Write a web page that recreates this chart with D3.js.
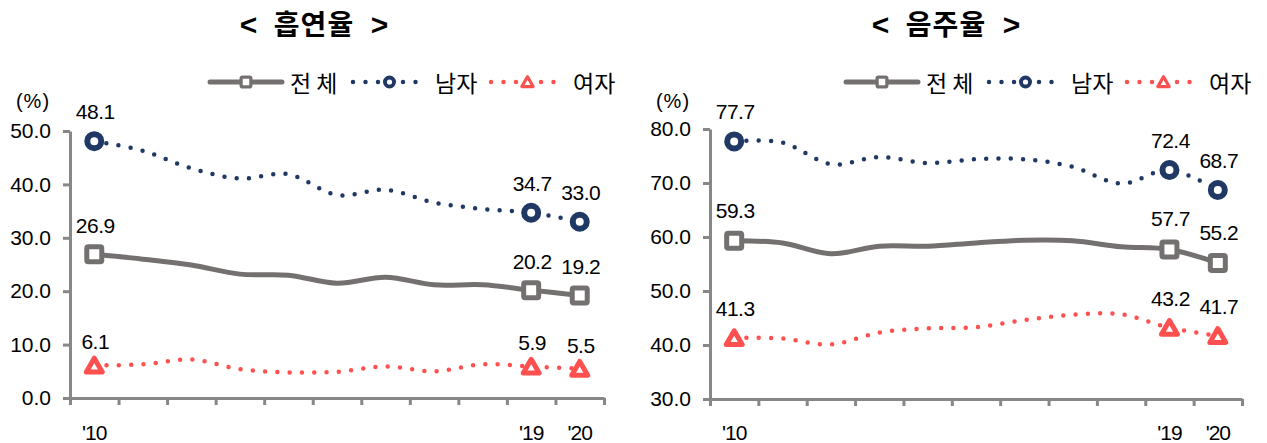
<!DOCTYPE html>
<html>
<head>
<meta charset="utf-8">
<script src="https://cdn.jsdelivr.net/npm/d3@7"></script>
<style>
  body { margin: 0; background: #fff; }
  text { font-family: "Liberation Sans", Arial, sans-serif; }
  .kr { font-family: "Noto Sans CJK KR", "Noto Sans", sans-serif; }
</style>
</head>
<body>
<svg id="chart" width="1267" height="443"></svg>
<script>
// years on the x axis, only three of them are labelled
var years = ["2010","2011","2012","2013","2014","2015","2016","2017","2018","2019","2020"];
var yearLabels = ["'10","","","","","","","","","'19","'20"];
var labelled = [0, 9, 10];

// smoking rate (%)
var smokeTotal  = [26.9, 26.0, 24.9, 23.2, 23.0, 21.5, 22.6, 21.2, 21.2, 20.2, 19.2];
var smokeMale   = [48.1, 46.3, 43.0, 41.1, 41.9, 38.0, 39.0, 36.6, 35.4, 34.7, 33.0];
var smokeFemale = [6.1, 6.3, 7.2, 5.4, 4.8, 4.9, 5.9, 5.0, 6.3, 5.9, 5.5];

// drinking rate (%)
var drinkTotal  = [59.3, 58.9, 56.9, 58.3, 58.3, 58.9, 59.4, 59.3, 58.2, 57.7, 55.2];
var drinkMale   = [77.7, 77.5, 73.5, 74.8, 73.7, 74.4, 74.4, 73.0, 69.9, 72.4, 68.7];
var drinkFemale = [41.3, 41.2, 40.1, 42.3, 43.1, 43.3, 44.6, 45.6, 45.7, 43.2, 41.7];

var seriesNames = ["전 체", "남자", "여자"];
var smokeTicks = [0, 10, 20, 30, 40, 50];
var drinkTicks = [30, 40, 50, 60, 70, 80];

var GRAY = "#757070", NAVY = "#1f3864", RED = "#ff5050", AXIS = "#878787";

var svg = d3.select("#chart");

function drawMarker(g, kind, x, y, big) {
	var s = big ? 1 : 0.65;
	if (kind == "square") {
		var side = 15 * s;
		g.append("rect")
			.attr("x", x - side/2).attr("y", y - side/2)
			.attr("width", side).attr("height", side)
			.attr("rx", 1.5)
			.attr("fill", "#fff").attr("stroke", GRAY).attr("stroke-width", 5 * s);
	} else if (kind == "circle") {
		g.append("circle")
			.attr("cx", x).attr("cy", y).attr("r", 7 * s)
			.attr("fill", "#fff").attr("stroke", NAVY).attr("stroke-width", 6 * s);
	} else {
		g.append("path")
			.attr("d", d3.symbol().type(d3.symbolTriangle).size(big ? 110 : 55)())
			.attr("transform", "translate(" + x + "," + (y + 2 * s) + ")")
			.attr("fill", "#fff").attr("stroke", RED).attr("stroke-width", 5 * s)
			.attr("stroke-linejoin", "round");
	}
}

function drawPanel(p) {
	var g = svg.append("g");

	var x = d3.scaleBand().domain(years).range([p.x0, p.x1]).padding(0);
	var xEdge = d3.scaleLinear().domain([0, years.length]).range([p.x0, p.x1]);
	var y = d3.scaleLinear().domain(p.domain).range([p.yBottom, p.yTop]);

	// title, brackets in a latin font so they come out large like the original
	var t = g.append("text").attr("class", "kr")
		.attr("x", p.titleX).attr("y", 35)
		.attr("text-anchor", "middle")
		.attr("font-size", 28).attr("font-weight", "bold")
		.attr("xml:space", "preserve");
	t.append("tspan").attr("font-family", "Liberation Sans, Arial, sans-serif")
		.attr("font-size", 30).text("<  ");
	t.append("tspan").attr("letter-spacing", 1).text(p.title);
	t.append("tspan").attr("font-family", "Liberation Sans, Arial, sans-serif")
		.attr("font-size", 30).text("  >");

	// y axis
	var yAxis = g.append("g")
		.attr("transform", "translate(" + p.x0 + ",0)")
		.call(d3.axisLeft(y).tickValues(p.ticks).tickFormat(d3.format(".1f"))
			.tickSizeInner(7).tickSizeOuter(0).tickPadding(12));
	// x axis, ticks between the years
	var xAxis = g.append("g")
		.attr("transform", "translate(0," + p.yBottom + ")")
		.call(d3.axisBottom(xEdge).tickValues(d3.range(years.length + 1))
			.tickFormat("").tickSizeInner(7).tickSizeOuter(0));
	[yAxis, xAxis].forEach(function(a) {
		a.selectAll("path, line").attr("stroke", AXIS).attr("stroke-width", 3);
		a.selectAll("text").attr("font-size", 21).attr("fill", "#000")
			.attr("font-family", "Liberation Sans, Arial, sans-serif");
	});

	g.selectAll(".yr").data(years).enter().append("text")
		.attr("x", function(d) { return x(d) + x.bandwidth()/2; })
		.attr("y", 440)
		.attr("text-anchor", "middle")
		.attr("font-size", 21)
		.attr("letter-spacing", -1)
		.text(function(d, i) { return yearLabels[i]; });

	g.append("text")
		.attr("x", p.x0 - 37).attr("y", 108)
		.attr("text-anchor", "middle")
		.attr("font-size", 20)
		.attr("letter-spacing", 1)
		.text("(%)");

	var line = d3.line()
		.x(function(d, i) { return x(years[i]) + x.bandwidth()/2; })
		.y(function(d) { return y(d); })
		.curve(d3.curveCatmullRom.alpha(0));

	p.series.forEach(function(s) {
		var path = g.append("path").datum(s.values)
			.attr("d", line)
			.attr("fill", "none")
			.attr("stroke", s.color)
			.attr("stroke-linecap", "round");
		if (s.dotted) path.attr("stroke-width", 4.5).attr("stroke-dasharray", "0 12.3");
		else path.attr("stroke-width", 5);
	});

	p.series.forEach(function(s) {
		labelled.forEach(function(i) {
			var cx = x(years[i]) + x.bandwidth()/2, cy = y(s.values[i]);
			drawMarker(g, s.marker, cx, cy, true);
			g.append("text")
				.attr("x", cx + 1).attr("y", cy - s.gap)
				.attr("text-anchor", "middle")
				.attr("font-size", 21)
				.attr("letter-spacing", -0.5)
				.text(d3.format(".1f")(s.values[i]));
		});
	});

	// legend
	var lx = p.legendX, ly = 82;
	var items = [
		{ x1: lx, x2: lx + 72, text: lx + 80, s: p.series[0] },
		{ x1: lx + 143, x2: lx + 208, text: lx + 225, s: p.series[1] },
		{ x1: lx + 281, x2: lx + 346, text: lx + 363, s: p.series[2] }
	];
	items.forEach(function(it, k) {
		var l = g.append("line")
			.attr("x1", it.x1).attr("x2", it.x2).attr("y1", ly).attr("y2", ly)
			.attr("stroke", it.s.color).attr("stroke-linecap", "round");
		if (it.s.dotted) l.attr("stroke-width", 4.5).attr("stroke-dasharray", "0 12.5");
		else l.attr("stroke-width", 5);
		drawMarker(g, it.s.marker, (it.x1 + it.x2)/2 + (it.s.dotted ? 4 : 0), ly, false);
		g.append("text").attr("class", "kr")
			.attr("x", it.text).attr("y", ly + 10)
			.attr("font-size", 23)
			.attr("xml:space", "preserve")
			.text(seriesNames[k]);
	});
}

drawPanel({
	title: "흡연율", titleX: 314,
	x0: 70, x1: 604, yTop: 131, yBottom: 398,
	domain: [0, 50], ticks: smokeTicks, legendX: 210,
	series: [
		{ values: smokeTotal, color: GRAY, marker: "square", dotted: false, gap: 21 },
		{ values: smokeMale, color: NAVY, marker: "circle", dotted: true, gap: 22 },
		{ values: smokeFemale, color: RED, marker: "triangle", dotted: true, gap: 16 }
	]
});

drawPanel({
	title: "음주율", titleX: 946,
	x0: 710, x1: 1242, yTop: 129, yBottom: 399,
	domain: [30, 80], ticks: drinkTicks, legendX: 846,
	series: [
		{ values: drinkTotal, color: GRAY, marker: "square", dotted: false, gap: 23 },
		{ values: drinkMale, color: NAVY, marker: "circle", dotted: true, gap: 22 },
		{ values: drinkFemale, color: RED, marker: "triangle", dotted: true, gap: 22 }
	]
});
</script>
</body>
</html>
